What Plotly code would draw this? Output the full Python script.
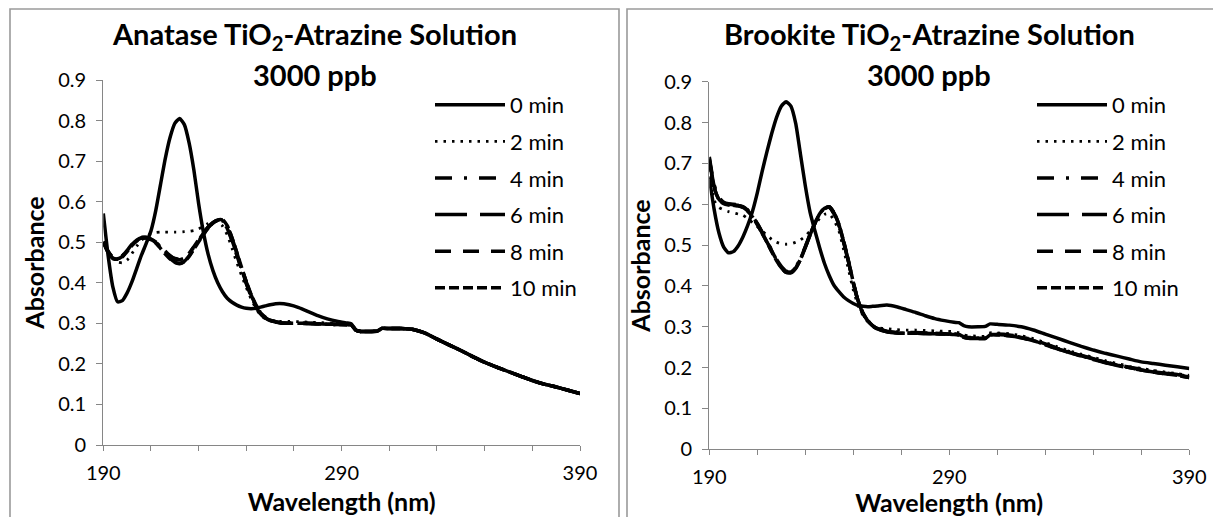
import plotly.graph_objects as go

# The page body has an 8px margin, so the figure is drawn 8px in from the
# window's top-left corner; coordinates below are given in window pixels.
OFF = 8
W, H = 1221 - OFF, 517 - OFF

# ---------------- data ----------------
wavelength = [190, 192, 194, 196, 198, 200, 202, 204, 206, 208, 210, 212, 214, 216, 218, 220,
              222, 224, 226, 228, 230, 232, 234, 236, 238, 240, 242, 244, 246, 248, 250, 252,
              254, 256, 258, 260, 264, 268, 272, 276, 280, 284, 288, 292, 294, 296, 298, 302,
              305, 307, 310, 315, 320, 325, 330, 335, 340, 345, 350, 355, 360, 365, 370, 375,
              380, 385, 390]

series_names = ["0 min", "2 min", "4 min", "6 min", "8 min", "10 min"]

anatase_tail = [0.283, 0.280, 0.280, 0.281, 0.288, 0.287, 0.287, 0.285, 0.276, 0.261, 0.247,
                0.233, 0.218, 0.204, 0.192, 0.181, 0.170, 0.159, 0.150, 0.143, 0.135, 0.127]

anatase_0 = [0.571, 0.468, 0.390, 0.353, 0.356, 0.375, 0.402, 0.435, 0.468, 0.497, 0.528, 0.578,
             0.642, 0.706, 0.758, 0.793, 0.805, 0.790, 0.745, 0.678, 0.595, 0.525, 0.470, 0.430,
             0.400, 0.378, 0.362, 0.352, 0.345, 0.340, 0.337, 0.336, 0.337, 0.340, 0.343, 0.346,
             0.349, 0.346, 0.339, 0.329, 0.319, 0.311, 0.305, 0.301, 0.299] + anatase_tail
anatase_2 = [0.497, 0.474, 0.460, 0.451, 0.449, 0.456, 0.472, 0.490, 0.505, 0.515, 0.521, 0.524,
             0.525, 0.525, 0.525, 0.525, 0.525, 0.526, 0.527, 0.529, 0.533, 0.539, 0.546, 0.552,
             0.550, 0.540, 0.518, 0.485, 0.450, 0.418, 0.388, 0.360, 0.337, 0.320, 0.311, 0.307,
             0.305, 0.305, 0.304, 0.303, 0.302, 0.301, 0.300, 0.299, 0.298] + anatase_tail
anatase_4 = [0.502, 0.478, 0.463, 0.460, 0.466, 0.479, 0.494, 0.505, 0.511, 0.512, 0.508, 0.500,
             0.489, 0.477, 0.466, 0.459, 0.457, 0.461, 0.472, 0.488, 0.505, 0.522, 0.537, 0.548,
             0.554, 0.553, 0.536, 0.505, 0.470, 0.434, 0.399, 0.368, 0.343, 0.324, 0.313, 0.307,
             0.302, 0.300, 0.300, 0.300, 0.299, 0.298, 0.297, 0.297, 0.296] + anatase_tail
anatase_6 = [0.500, 0.476, 0.461, 0.459, 0.465, 0.478, 0.493, 0.504, 0.510, 0.511, 0.507, 0.499,
             0.486, 0.472, 0.460, 0.451, 0.448, 0.453, 0.466, 0.484, 0.502, 0.520, 0.536, 0.548,
             0.555, 0.555, 0.540, 0.510, 0.474, 0.437, 0.402, 0.370, 0.345, 0.325, 0.314, 0.307,
             0.302, 0.300, 0.300, 0.300, 0.299, 0.298, 0.297, 0.297, 0.296] + anatase_tail
anatase_8 = [0.501, 0.477, 0.462, 0.460, 0.467, 0.480, 0.495, 0.506, 0.512, 0.512, 0.508, 0.501,
             0.490, 0.478, 0.467, 0.460, 0.458, 0.462, 0.473, 0.489, 0.506, 0.523, 0.538, 0.549,
             0.554, 0.552, 0.534, 0.503, 0.468, 0.433, 0.398, 0.367, 0.342, 0.323, 0.312, 0.306,
             0.301, 0.300, 0.300, 0.299, 0.299, 0.298, 0.297, 0.296, 0.296] + anatase_tail
anatase_10 = [0.499, 0.475, 0.460, 0.458, 0.464, 0.477, 0.492, 0.503, 0.509, 0.510, 0.506, 0.498,
              0.485, 0.471, 0.459, 0.450, 0.447, 0.452, 0.465, 0.483, 0.501, 0.519, 0.535, 0.547,
              0.554, 0.556, 0.541, 0.511, 0.475, 0.438, 0.403, 0.371, 0.346, 0.326, 0.315, 0.308,
              0.302, 0.300, 0.300, 0.300, 0.299, 0.298, 0.297, 0.297, 0.296] + anatase_tail

brookite_0 = [0.665, 0.588, 0.530, 0.495, 0.481, 0.484, 0.498, 0.520, 0.548, 0.583, 0.628, 0.680,
              0.728, 0.773, 0.812, 0.840, 0.851, 0.840, 0.798, 0.722, 0.645, 0.580, 0.535, 0.493,
              0.455, 0.425, 0.401, 0.386, 0.373, 0.364, 0.357, 0.352, 0.350, 0.349, 0.350, 0.351,
              0.353, 0.349, 0.342, 0.335, 0.327, 0.320, 0.315, 0.311, 0.310, 0.303, 0.300, 0.300,
              0.301, 0.307, 0.306, 0.304, 0.300, 0.292, 0.282, 0.272, 0.262, 0.252, 0.243, 0.235,
              0.228, 0.221, 0.214, 0.210, 0.206, 0.202, 0.198]
brookite_2 = [0.690, 0.610, 0.592, 0.586, 0.582, 0.579, 0.576, 0.573, 0.565, 0.555, 0.545, 0.535,
              0.524, 0.514, 0.507, 0.503, 0.502, 0.503, 0.507, 0.513, 0.522, 0.535, 0.550, 0.565,
              0.575, 0.577, 0.560, 0.535, 0.488, 0.440, 0.390, 0.352, 0.328, 0.312, 0.303, 0.298,
              0.295, 0.293, 0.292, 0.292, 0.291, 0.290, 0.289, 0.288, 0.285, 0.280, 0.278, 0.277,
              0.277, 0.285, 0.285, 0.283, 0.278, 0.271, 0.261, 0.251, 0.241, 0.233, 0.225, 0.217,
              0.210, 0.203, 0.198, 0.193, 0.189, 0.185, 0.181]
brookite_4 = [0.716, 0.648, 0.617, 0.605, 0.601, 0.600, 0.599, 0.595, 0.586, 0.572, 0.553, 0.532,
              0.510, 0.487, 0.465, 0.448, 0.436, 0.435, 0.446, 0.467, 0.496, 0.527, 0.555, 0.578,
              0.590, 0.592, 0.576, 0.548, 0.506, 0.458, 0.406, 0.362, 0.332, 0.314, 0.303, 0.296,
              0.290, 0.287, 0.286, 0.286, 0.285, 0.284, 0.284, 0.283, 0.281, 0.276, 0.274, 0.273,
              0.273, 0.282, 0.282, 0.280, 0.275, 0.268, 0.258, 0.248, 0.239, 0.230, 0.222, 0.214,
              0.207, 0.201, 0.196, 0.191, 0.187, 0.183, 0.178]
brookite_6 = [0.712, 0.645, 0.614, 0.603, 0.600, 0.599, 0.597, 0.593, 0.584, 0.570, 0.551, 0.530,
              0.508, 0.485, 0.462, 0.445, 0.433, 0.432, 0.443, 0.465, 0.494, 0.525, 0.553, 0.576,
              0.589, 0.594, 0.578, 0.550, 0.508, 0.460, 0.408, 0.364, 0.333, 0.314, 0.302, 0.295,
              0.288, 0.285, 0.284, 0.284, 0.283, 0.283, 0.282, 0.281, 0.279, 0.274, 0.272, 0.271,
              0.271, 0.280, 0.280, 0.278, 0.273, 0.266, 0.256, 0.246, 0.237, 0.228, 0.220, 0.212,
              0.205, 0.199, 0.194, 0.189, 0.185, 0.181, 0.176]
brookite_8 = [0.708, 0.642, 0.612, 0.602, 0.599, 0.598, 0.597, 0.594, 0.585, 0.571, 0.552, 0.531,
              0.509, 0.486, 0.464, 0.447, 0.435, 0.434, 0.445, 0.466, 0.495, 0.526, 0.554, 0.577,
              0.590, 0.593, 0.577, 0.549, 0.507, 0.459, 0.407, 0.363, 0.333, 0.315, 0.303, 0.296,
              0.289, 0.286, 0.285, 0.285, 0.284, 0.284, 0.283, 0.282, 0.280, 0.275, 0.273, 0.272,
              0.272, 0.281, 0.281, 0.279, 0.274, 0.267, 0.257, 0.247, 0.238, 0.229, 0.221, 0.213,
              0.206, 0.200, 0.195, 0.190, 0.186, 0.182, 0.177]
brookite_10 = [0.704, 0.640, 0.611, 0.601, 0.598, 0.597, 0.596, 0.592, 0.583, 0.569, 0.550, 0.529,
               0.507, 0.484, 0.462, 0.445, 0.433, 0.433, 0.444, 0.465, 0.494, 0.525, 0.553, 0.577,
               0.590, 0.594, 0.579, 0.551, 0.509, 0.461, 0.409, 0.364, 0.334, 0.315, 0.303, 0.295,
               0.288, 0.285, 0.284, 0.284, 0.284, 0.283, 0.282, 0.281, 0.279, 0.274, 0.272, 0.272,
               0.272, 0.280, 0.280, 0.278, 0.273, 0.266, 0.256, 0.246, 0.237, 0.229, 0.221, 0.213,
               0.206, 0.200, 0.194, 0.189, 0.185, 0.181, 0.176]

x_ticks = [190, 290, 390]
y_ticks = [0, 0.1, 0.2, 0.3, 0.4, 0.5, 0.6, 0.7, 0.8, 0.9]
y_tick_text = ["0", "0.1", "0.2", "0.3", "0.4", "0.5", "0.6", "0.7", "0.8", "0.9"]

panels = [
    ("Anatase", [anatase_0, anatase_2, anatase_4, anatase_6, anatase_8, anatase_10]),
    ("Brookite", [brookite_0, brookite_2, brookite_4, brookite_6, brookite_8, brookite_10]),
]

# ---------------- styling ----------------
FONT = "Lato"
AX = "#868686"
line_styles = [
    dict(dash="solid", width=3.5),
    dict(dash="2.5px,6px", width=2.8),
    dict(dash="17px,12px,3px,12px", width=3.5),
    dict(dash="32px,13px", width=3.5),
    dict(dash="16px,12px", width=3.5),
    dict(dash="10px,4px", width=3.5),
]

def px_x(p):
    return (p - OFF) / W

def px_y(p):
    return 1 - (p - OFF) / H

fig = go.Figure()
for pi, (label, series) in enumerate(panels):
    xa = "x" if pi == 0 else "x2"
    ya = "y" if pi == 0 else "y2"
    lg = "legend" if pi == 0 else "legend2"
    for si, (name, ys) in enumerate(zip(series_names, series)):
        st = line_styles[si]
        fig.add_trace(go.Scatter(
            x=wavelength, y=ys, mode="lines", name=name,
            xaxis=xa, yaxis=ya, legend=lg, legendgroup=f"{label}{si}",
            line=dict(color="black", width=st["width"], dash=st["dash"],
                      shape="spline", smoothing=0.5),
            hoverinfo="skip",
        ))

# window-pixel geometry of the two plot areas
plot_px = [
    dict(x0=103.3, x1=580.0, ytop=80.0, ybot=445.0, title_cx=314.5, leg_x=430),
    dict(x0=709.3, x1=1189.3, ytop=81.7, ybot=449.3, title_cx=929.0, leg_x=1032),
]

layout = dict(
    template="none",
    width=W, height=H, margin=dict(l=0, r=0, t=0, b=0, autoexpand=False),
    paper_bgcolor="white", plot_bgcolor="white",
    font=dict(family=FONT, color="black", size=18),
    showlegend=True,
)

annotations = []
shapes = []
for pi, g in enumerate(plot_px):
    sfx = "" if pi == 0 else "2"
    xa = dict(
        domain=[px_x(g["x0"]), px_x(g["x1"])], range=[190, 390], automargin=False,
        tickmode="array", tickvals=x_ticks, ticktext=[str(v) for v in x_ticks],
        ticks="outside", ticklen=5, tickwidth=1.3, tickcolor=AX,
        minor=dict(tickmode="linear", tick0=190, dtick=20, ticks="outside", ticklen=5,
                   tickwidth=1.3, tickcolor=AX, showgrid=False),
        showline=True, linecolor=AX, linewidth=1.3, showgrid=False, zeroline=False,
        tickfont=dict(family=FONT, size=20, color="black"), ticklabelstandoff=5,
        title=dict(text="Wavelength (nm)", font=dict(family=FONT, size=25, weight="bold"), standoff=10),
        anchor="y" + sfx, fixedrange=True,
    )
    ya = dict(
        domain=[px_y(g["ybot"]), px_y(g["ytop"])], range=[0, 0.9], automargin=False,
        tickmode="array", tickvals=y_ticks, ticktext=y_tick_text,
        ticks="outside", ticklen=6, tickwidth=1.3, tickcolor=AX,
        showline=True, linecolor=AX, linewidth=1.3, showgrid=False, zeroline=False,
        tickfont=dict(family=FONT, size=20, color="black"), ticklabelstandoff=6,
        title=dict(text="Absorbance", font=dict(family=FONT, size=25, weight="bold"), standoff=6),
        anchor="x" + sfx, fixedrange=True,
    )
    layout["xaxis" + sfx] = xa
    layout["yaxis" + sfx] = ya
    layout["legend" if pi == 0 else "legend2"] = dict(
        x=px_x(g["leg_x"]), xanchor="left", y=px_y(84), yanchor="top",
        bgcolor="rgba(0,0,0,0)", borderwidth=0, itemwidth=70,
        traceorder="grouped", tracegroupgap=5,
        font=dict(family=FONT, size=22, color="black"),
    )
    name = panels[pi][0]
    annotations.append(dict(
        text=f"{name} TiO<sub>2</sub>-Atrazine Solution", xref="paper", yref="paper",
        x=px_x(g["title_cx"]), y=px_y(36), xanchor="center", yanchor="middle",
        showarrow=False, font=dict(family=FONT, size=29, weight="bold", color="black"),
    ))
    annotations.append(dict(
        text="3000 ppb", xref="paper", yref="paper",
        x=px_x(g["title_cx"]), y=px_y(75), xanchor="center", yanchor="middle",
        showarrow=False, font=dict(family=FONT, size=29, weight="bold", color="black"),
    ))

# chart-area borders
shapes.append(dict(type="rect", xref="paper", yref="paper", x0=px_x(10), x1=px_x(619),
                   y0=-0.05, y1=px_y(9), line=dict(color="#9a9a9a", width=1.6), layer="below"))
shapes.append(dict(type="rect", xref="paper", yref="paper", x0=px_x(627), x1=px_x(1236),
                   y0=-0.05, y1=px_y(9), line=dict(color="#9a9a9a", width=1.6), layer="below"))

layout["annotations"] = annotations
layout["shapes"] = shapes
fig.update_layout(**layout)

fig.write_html("out.html")
